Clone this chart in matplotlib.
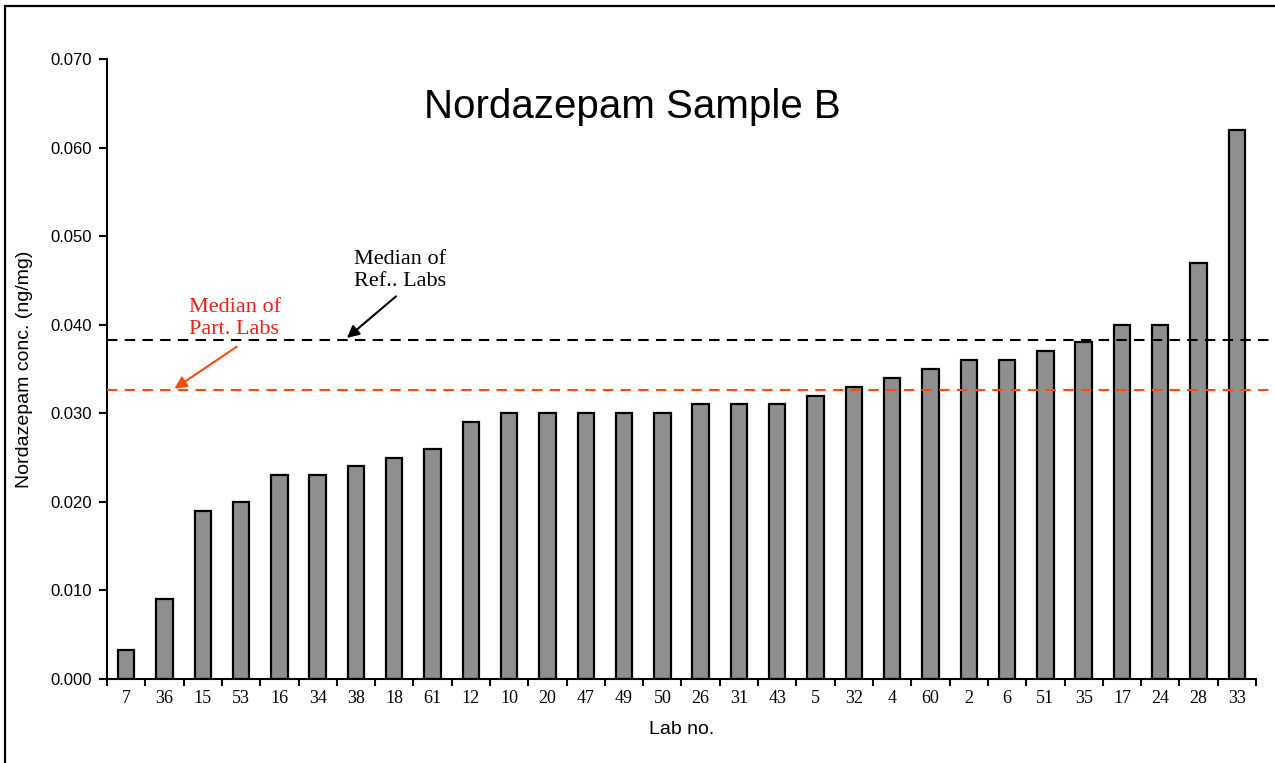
import matplotlib.pyplot as plt
from matplotlib.patches import Rectangle
import numpy as np

labs = ["7", "36", "15", "53", "16", "34", "38", "18", "61", "12", "10", "20", "47", "49", "50",
        "26", "31", "43", "5", "32", "4", "60", "2", "6", "51", "35", "17", "24", "28", "33"]
conc = [0.0033, 0.009, 0.019, 0.020, 0.023, 0.023, 0.024, 0.025, 0.026, 0.029, 0.030, 0.030, 0.030,
        0.030, 0.030, 0.031, 0.031, 0.031, 0.032, 0.033, 0.034, 0.035, 0.036, 0.036, 0.037, 0.038,
        0.040, 0.040, 0.047, 0.062]
median_ref = 0.0383
median_part = 0.0326
yticks = [0.000, 0.010, 0.020, 0.030, 0.040, 0.050, 0.060, 0.070]

sans = ["Liberation Sans", "DejaVu Sans"]
serif = ["Liberation Serif", "DejaVu Serif"]

fig = plt.figure(figsize=(12.75, 7.63), dpi=100)
ax = fig.add_axes([107 / 1275, 1 - 679 / 763, (1256 - 107) / 1275, (679 - 59) / 763])

x = np.arange(len(labs))
ax.bar(x, conc, width=0.43, color="#8f8f8f", edgecolor="black", linewidth=1.6, zorder=2)

ax.set_xlim(-0.5, len(labs) - 0.5)
ax.set_ylim(0, 0.070)

# median lines run past the right end of the axis
ax.plot([-0.5, len(labs)], [median_ref] * 2, color="black", lw=1.5, ls=(0, (5, 3.5)),
        clip_on=False, zorder=3)
ax.plot([-0.5, len(labs)], [median_part] * 2, color="#ff4a0f", lw=1.5, ls=(0, (5, 3.5)),
        clip_on=False, zorder=3)

ax.annotate("", xy=(5.71, median_ref), xytext=(7.1, 0.0434),
            arrowprops=dict(arrowstyle="-|>", color="black", lw=1.5, mutation_scale=18))
ax.text(5.95, 0.0484, "Median of\nRef.. Labs", ha="left", va="top", fontsize=16,
        family=serif, color="black", linespacing=1.2)
ax.annotate("", xy=(1.2, median_part), xytext=(2.95, 0.0377),
            arrowprops=dict(arrowstyle="-|>", color="#ff4a0f", lw=1.5, mutation_scale=18))
ax.text(1.64, 0.0430, "Median of\nPart. Labs", ha="left", va="top", fontsize=16,
        family=serif, color="#e8201a", linespacing=1.2)

ax.spines["top"].set_visible(False)
ax.spines["right"].set_visible(False)
ax.spines["left"].set_linewidth(1.5)
ax.spines["bottom"].set_linewidth(1.5)

ax.set_yticks(yticks)
ax.set_yticklabels(["%.3f" % v for v in yticks], family=sans, fontsize=12)
ax.tick_params(axis="y", direction="out", length=6, width=1.5, pad=5)

# ticks sit between the bars, labels under them
ax.set_xticks(np.arange(len(labs) + 1) - 0.5)
ax.set_xticklabels([])
ax.set_xticks(x, minor=True)
ax.set_xticklabels(labs, minor=True, family=serif, fontsize=13)
ax.tick_params(axis="x", which="major", direction="out", length=5, width=1.5)
ax.tick_params(axis="x", which="minor", length=0, pad=8)

ax.set_xlabel("Lab no.", family=sans, fontsize=14, labelpad=10)
ax.set_ylabel("Nordazepam conc. (ng/mg)", family=sans, fontsize=14, labelpad=12)

fig.text(632 / 1275, 1 - 107 / 763, "Nordazepam Sample B", ha="center", va="center",
         fontsize=29, family=sans)

fig.patches.append(Rectangle((5 / 1275, -0.1), 1.2, 1.1 - 6 / 763, transform=fig.transFigure,
                             fill=False, edgecolor="black", linewidth=1.6, zorder=10))

fig.savefig("out.png", dpi=100)
